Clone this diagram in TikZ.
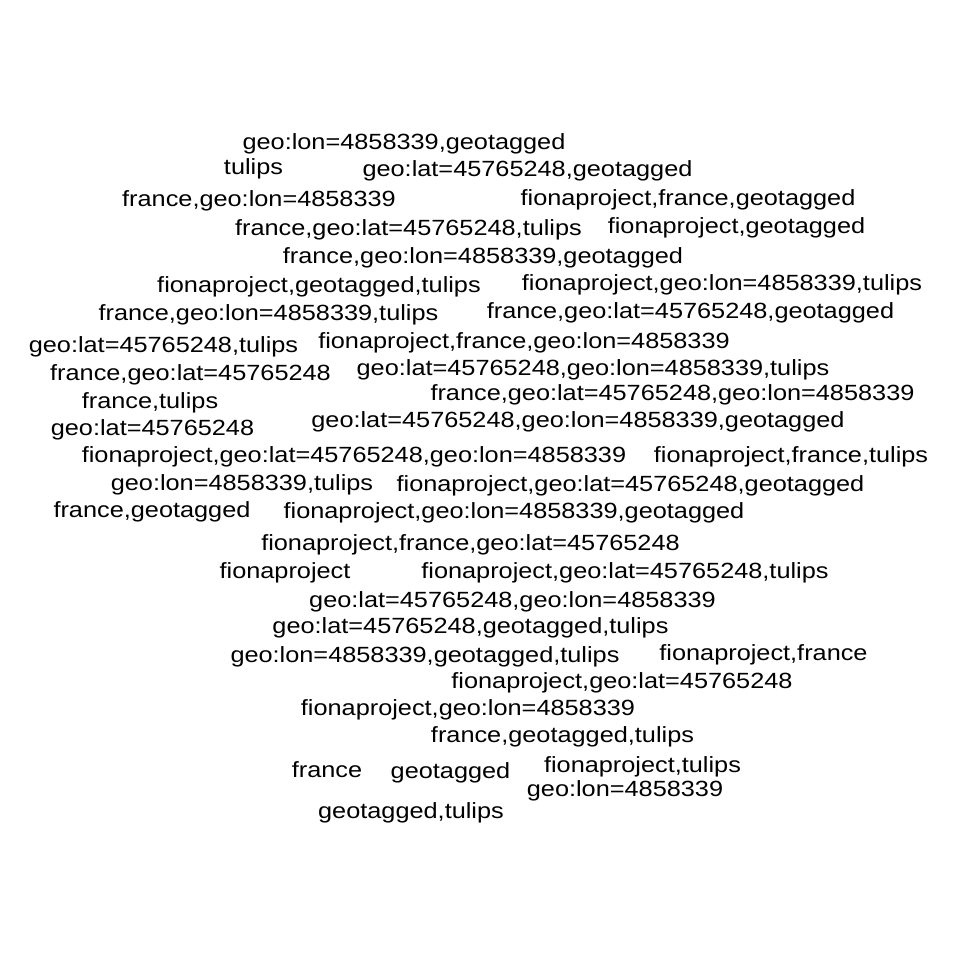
\documentclass[tikz,border=0pt]{standalone}
\usepackage{fontspec}
\setmainfont[FakeStretch=1.15]{Liberation Sans}

\begin{document}
\begin{tikzpicture}[x=1pt, y=-1pt, tag/.style={anchor=base, inner sep=0pt, font=\fontsize{22}{26}\selectfont}]
        \useasboundingbox (0, 0) rectangle (960, 960);

        % Draw the upper tags
        \node[tag] (tag1) at (404, 150) {geo:lon=4858339,geotagged};
        \node[tag] (tag2) at (253.5, 175) {tulips};
        \node[tag] (tag3) at (527.5, 177) {geo:lat=45765248,geotagged};
        \node[tag] (tag4) at (259, 206) {france,geo:lon=4858339};
        \node[tag] (tag5) at (688, 205) {fionaproject,france,geotagged};
        \node[tag] (tag6) at (408.5, 235) {france,geo:lat=45765248,tulips};
        \node[tag] (tag7) at (736.5, 233) {fionaproject,geotagged};
        \node[tag] (tag8) at (483, 263) {france,geo:lon=4858339,geotagged};
        \node[tag] (tag9) at (319, 292) {fionaproject,geotagged,tulips};
        \node[tag] (tag10) at (722, 290) {fionaproject,geo:lon=4858339,tulips};
        \node[tag] (tag11) at (268.5, 320) {france,geo:lon=4858339,tulips};
        \node[tag] (tag12) at (690.5, 318) {france,geo:lat=45765248,geotagged};
        \node[tag] (tag13) at (163.5, 352) {geo:lat=45765248,tulips};
        \node[tag] (tag14) at (524, 348) {fionaproject,france,geo:lon=4858339};

        % Draw the middle tags
        \node[tag] (tag15) at (190.5, 380) {france,geo:lat=45765248};
        \node[tag] (tag16) at (593, 375) {geo:lat=45765248,geo:lon=4858339,tulips};
        \node[tag] (tag17) at (150, 408) {france,tulips};
        \node[tag] (tag18) at (672.5, 400) {france,geo:lat=45765248,geo:lon=4858339};
        \node[tag] (tag19) at (152.5, 435) {geo:lat=45765248};
        \node[tag] (tag20) at (578, 427) {geo:lat=45765248,geo:lon=4858339,geotagged};
        \node[tag] (tag21) at (354, 462) {fionaproject,geo:lat=45765248,geo:lon=4858339};
        \node[tag] (tag22) at (791, 462) {fionaproject,france,tulips};
        \node[tag] (tag23) at (242, 490) {geo:lon=4858339,tulips};
        \node[tag] (tag24) at (630.5, 491) {fionaproject,geo:lat=45765248,geotagged};
        \node[tag] (tag25) at (152, 517) {france,geotagged};
        \node[tag] (tag26) at (514, 518) {fionaproject,geo:lon=4858339,geotagged};
        \node[tag] (tag27) at (470.5, 550) {fionaproject,france,geo:lat=45765248};
        \node[tag] (tag28) at (285, 578) {fionaproject};
        \node[tag] (tag29) at (625, 578) {fionaproject,geo:lat=45765248,tulips};

        % Draw the lower tags
        \node[tag] (tag30) at (512.5, 607) {geo:lat=45765248,geo:lon=4858339};
        \node[tag] (tag31) at (470.5, 633) {geo:lat=45765248,geotagged,tulips};
        \node[tag] (tag32) at (425, 662) {geo:lon=4858339,geotagged,tulips};
        \node[tag] (tag33) at (763.5, 660) {fionaproject,france};
        \node[tag] (tag34) at (622, 688) {fionaproject,geo:lat=45765248};
        \node[tag] (tag35) at (468, 715) {fionaproject,geo:lon=4858339};
        \node[tag] (tag36) at (562.5, 742) {france,geotagged,tulips};
        \node[tag] (tag37) at (327, 777) {france};
        \node[tag] (tag38) at (450.5, 778) {geotagged};
        \node[tag] (tag39) at (642.5, 772) {fionaproject,tulips};
        \node[tag] (tag40) at (625, 796) {geo:lon=4858339};
        \node[tag] (tag41) at (411, 818) {geotagged,tulips};

    \end{tikzpicture}
\end{document}
